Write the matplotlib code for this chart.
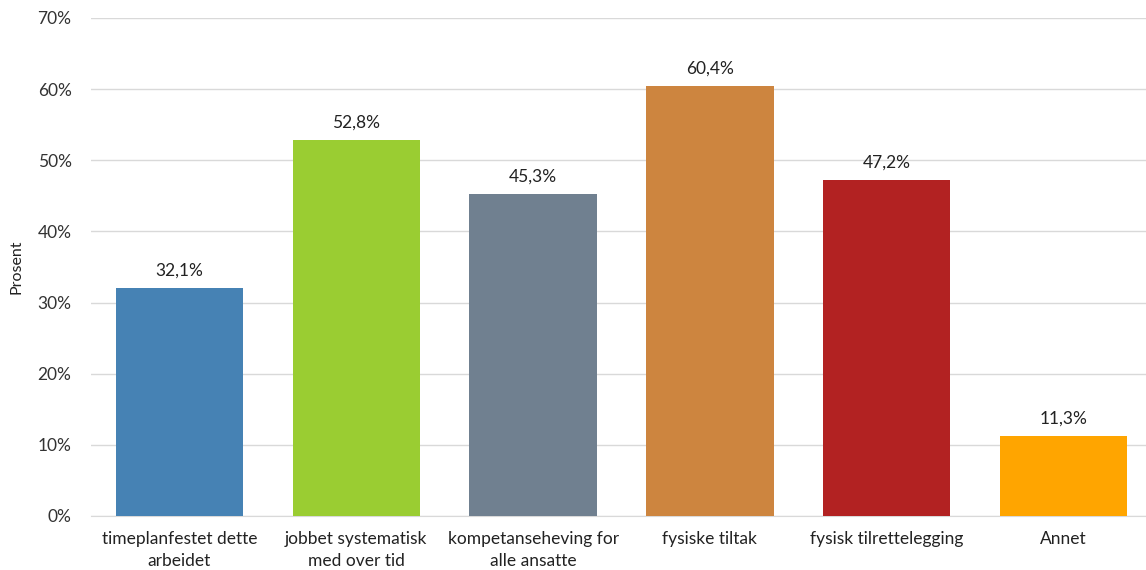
import matplotlib
matplotlib.use("Agg")
import matplotlib.pyplot as plt
from matplotlib.ticker import FuncFormatter, MultipleLocator

categories = ["timeplanfestet dette\narbeidet", "jobbet systematisk\nmed over tid",
              "kompetanseheving for\nalle ansatte", "fysiske tiltak",
              "fysisk tilrettelegging", "Annet"]
values = [32.1, 52.8, 45.3, 60.4, 47.2, 11.3]
colors = ["#4682B4", "#9ACD32", "#708090", "#CD853F", "#B22222", "#FFA500"]

plt.rcParams['font.family'] = ['Lato', 'DejaVu Sans']
fig = plt.figure(figsize=(11.46, 5.70), dpi=100)
ax = fig.add_axes([91/1146, 1-516/570, (1152-91)/1146, (516-18)/570])
x = range(len(categories))
bars = ax.bar(x, values, width=0.72, color=colors, zorder=3)
for b, v in zip(bars, values):
    ax.text(b.get_x()+b.get_width()/2, v+1.3, f"{v:.1f}%".replace(".", ","),
            ha="center", va="bottom", fontsize=12.5, color="#222222")
ax.set_xlim(-0.5, 5.5)
ax.set_ylim(0, 70)
ax.yaxis.set_major_locator(MultipleLocator(10))
ax.yaxis.set_major_formatter(FuncFormatter(lambda v, p: f"{int(v)}%"))
ax.set_xticks(list(x))
ax.set_xticklabels(categories, fontsize=12.5, color="#222222", linespacing=1.45)
ax.tick_params(axis="y", labelsize=12.5, colors="#333333", length=0, pad=14)
ax.tick_params(axis="x", length=0, pad=11)
ax.grid(axis="y", color="#d9d9d9", linewidth=1, zorder=0)
for s in ["top", "right", "left"]:
    ax.spines[s].set_visible(False)
ax.spines["bottom"].set_color("#d9d9d9")
ax.set_ylabel("Prosent", fontsize=11.5, color="#222222", labelpad=10)
fig.savefig("out.png", dpi=100)
